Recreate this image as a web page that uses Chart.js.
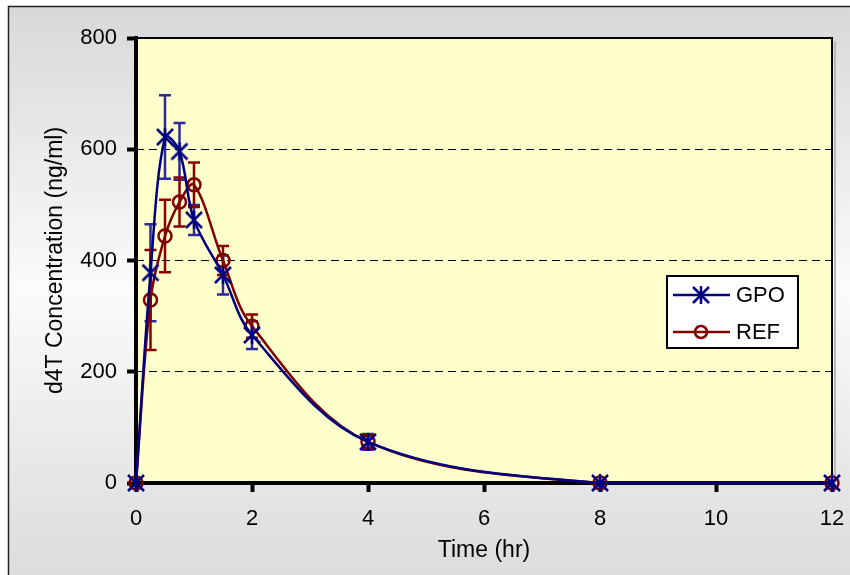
<!DOCTYPE html>
<html>
<head>
<meta charset="utf-8">
<title>d4T Concentration</title>
<script src="https://cdn.jsdelivr.net/npm/chart.js@4.4.1/dist/chart.umd.min.js"></script>
<style>
  html, body { margin: 0; padding: 0; background: #ffffff; }
  #wrap { width: 850px; height: 575px; position: relative; }
</style>
</head>
<body>
<div id="wrap">
  <canvas id="concChart" width="850" height="575"></canvas>
</div>
<script>
// sampling times (hr)
const times = [0, 0.25, 0.5, 0.75, 1, 1.5, 2, 4, 8, 12];

// GPO mean and SD (ng/ml)
const gpoMean = [0, 378, 622, 596, 473, 374, 266, 74, 0, 0];
const gpoSD = [0, 87, 75, 51, 27, 35, 25, 14, 0, 0];

// REF mean and SD (ng/ml)
const refMean = [0, 329, 444, 505, 536, 400, 282, 74, 0, 0];
const refSD = [0, 90, 65, 44, 40, 26, 21, 12, 0, 0];

const yTicks = [0, 200, 400, 600, 800];
const xTicks = [0, 2, 4, 6, 8, 10, 12];

const FONT = "'Liberation Sans', Arial, sans-serif";
const BLUE = "#000080";
const RED = "#800000";

// asterisk marker (vertical bar + X), like the spreadsheet one
function makeAsterisk(color) {
  const c = document.createElement("canvas");
  c.width = 20;
  c.height = 20;
  const g = c.getContext("2d");
  g.strokeStyle = color;
  g.lineWidth = 2.5;
  g.lineCap = "butt";
  g.beginPath();
  g.moveTo(10, 1); g.lineTo(10, 19);
  g.moveTo(2, 2); g.lineTo(18, 18);
  g.moveTo(18, 2); g.lineTo(2, 18);
  g.stroke();
  return c;
}
const asterisk = makeAsterisk(BLUE);

const series = [
  { label: "GPO", mean: gpoMean, sd: gpoSD, color: BLUE, barColor: "#2a2a9c", marker: asterisk },
  { label: "REF", mean: refMean, sd: refSD, color: RED, barColor: "#8b0000", marker: "circle" }
];

// background, plot fill and frame
const framePlugin = {
  id: "frame",
  beforeDraw(chart) {
    const { ctx, chartArea: a } = chart;
    ctx.save();
    const grad = ctx.createLinearGradient(0, 6, 0, 575);
    grad.addColorStop(0, "#d8d8d8");
    grad.addColorStop(0.5, "#fbfbfb");
    grad.addColorStop(1, "#dcdcdc");
    ctx.fillStyle = grad;
    ctx.fillRect(8, 6, 850, 575);
    ctx.strokeStyle = "#222";
    ctx.lineWidth = 1.5;
    ctx.beginPath();
    ctx.moveTo(8.5, 580);
    ctx.lineTo(8.5, 6.5);
    ctx.lineTo(860, 6.5);
    ctx.stroke();
    // faint shadow on the right of the plot
    ctx.fillStyle = "#b8b8b8";
    ctx.fillRect(a.right + 2, a.top + 3, 2, a.bottom - a.top);
    ctx.fillStyle = "#ffffcc";
    ctx.fillRect(a.left, a.top, a.right - a.left, a.bottom - a.top);
    ctx.restore();
  },
  beforeDatasetsDraw(chart) {
    const { ctx, chartArea: a } = chart;
    ctx.save();
    ctx.strokeStyle = "#000";
    ctx.lineWidth = 2;
    ctx.beginPath();
    ctx.moveTo(a.left, a.top);
    ctx.lineTo(a.right, a.top);
    ctx.lineTo(a.right, a.bottom);
    ctx.stroke();
    ctx.lineWidth = 4;
    ctx.beginPath();
    ctx.moveTo(a.left, a.top - 2);
    ctx.lineTo(a.left, a.bottom);
    ctx.lineTo(a.right, a.bottom);
    ctx.stroke();
    ctx.restore();
  }
};

// SD error bars with caps
const errorBarPlugin = {
  id: "errorBars",
  beforeDatasetsDraw(chart) {
    const { ctx } = chart;
    const xs = chart.scales.x;
    const ys = chart.scales.y;
    ctx.save();
    ctx.lineWidth = 2.5;
    series.forEach((s) => {
      ctx.strokeStyle = s.barColor;
      times.forEach((t, i) => {
        const sd = s.sd[i];
        if (!sd) return;
        const px = xs.getPixelForValue(t);
        const top = ys.getPixelForValue(s.mean[i] + sd);
        const bot = ys.getPixelForValue(s.mean[i] - sd);
        ctx.beginPath();
        ctx.moveTo(px, top);
        ctx.lineTo(px, bot);
        ctx.moveTo(px - 6, top);
        ctx.lineTo(px + 6, top);
        ctx.moveTo(px - 6, bot);
        ctx.lineTo(px + 6, bot);
        ctx.stroke();
      });
    });
    ctx.restore();
  }
};

// boxed legend inside the plot
const legendPlugin = {
  id: "boxLegend",
  afterDraw(chart) {
    const { ctx } = chart;
    const bx = 667, by = 276, bw = 131, bh = 72;
    ctx.save();
    ctx.fillStyle = "#ffffff";
    ctx.fillRect(bx, by, bw, bh);
    ctx.strokeStyle = "#000";
    ctx.lineWidth = 2;
    ctx.strokeRect(bx, by, bw, bh);
    ctx.font = "22px " + FONT;
    ctx.textBaseline = "middle";
    chart.data.datasets.forEach((ds, i) => {
      const cy = by + 19 + i * 37;
      ctx.strokeStyle = ds.borderColor;
      ctx.lineWidth = 2.5;
      ctx.beginPath();
      ctx.moveTo(bx + 6, cy);
      ctx.lineTo(bx + 63, cy);
      ctx.stroke();
      if (ds.pointStyle === "circle") {
        ctx.beginPath();
        ctx.arc(bx + 34, cy, 6, 0, Math.PI * 2);
        ctx.lineWidth = 2.5;
        ctx.stroke();
      } else {
        ctx.drawImage(ds.pointStyle, bx + 34 - 10, cy - 10);
      }
      ctx.fillStyle = "#000";
      ctx.fillText(ds.label, bx + 69, cy + 1);
    });
    ctx.restore();
  }
};

const ctx = document.getElementById("concChart").getContext("2d");

new Chart(ctx, {
  type: "line",
  data: {
    datasets: series.map((s) => ({
      label: s.label,
      data: times.map((t, i) => ({ x: t, y: s.mean[i] })),
      borderColor: s.color,
      borderWidth: 2.5,
      backgroundColor: "transparent",
      pointStyle: s.marker,
      pointRadius: 6.5,
      pointBorderWidth: 2.5,
      pointBorderColor: s.color,
      pointBackgroundColor: "rgba(0,0,0,0)",
      tension: 0.35,
      clip: false
    }))
  },
  options: {
    responsive: false,
    animation: false,
    layout: { padding: { left: 42, top: 38, right: 18, bottom: 11 } },
    plugins: {
      legend: { display: false },
      tooltip: { enabled: false }
    },
    scales: {
      x: {
        type: "linear",
        min: 0,
        max: 12,
        afterFit(scale) {
          scale.height = 81;
          scale.paddingLeft = 0;
          scale.paddingRight = 0;
        },
        afterBuildTicks(scale) { scale.ticks = xTicks.map((v) => ({ value: v })); },
        ticks: { color: "#000", font: { family: FONT, size: 22 }, padding: 14, maxRotation: 0 },
        grid: {
          drawOnChartArea: false,
          tickLength: 9,
          tickWidth: 4,
          tickColor: "#000",
          tickBorderDash: []
        },
        border: { display: false },
        title: {
          display: true,
          text: "Time (hr)",
          color: "#000",
          font: { family: FONT, size: 23 },
          padding: { top: 0, bottom: 0 }
        }
      },
      y: {
        min: 0,
        max: 800,
        afterFit(scale) {
          scale.width = 94;
          scale.paddingTop = 0;
          scale.paddingBottom = 0;
        },
        afterBuildTicks(scale) { scale.ticks = yTicks.map((v) => ({ value: v })); },
        ticks: { color: "#000", font: { family: FONT, size: 22 }, padding: 10 },
        grid: {
          color: (c) => (c.tick && (c.tick.value === 0 || c.tick.value === 800) ? "rgba(0,0,0,0)" : "#000"),
          lineWidth: 1,
          tickLength: 9,
          tickWidth: 4,
          tickColor: "#000",
          tickBorderDash: []
        },
        border: { display: false, dash: [8, 5] },
        title: {
          display: true,
          text: "d4T Concentration (ng/ml)",
          color: "#000",
          font: { family: FONT, size: 23 },
          padding: { top: 0, bottom: 0 }
        }
      }
    }
  },
  plugins: [framePlugin, errorBarPlugin, legendPlugin]
});
</script>
</body>
</html>
